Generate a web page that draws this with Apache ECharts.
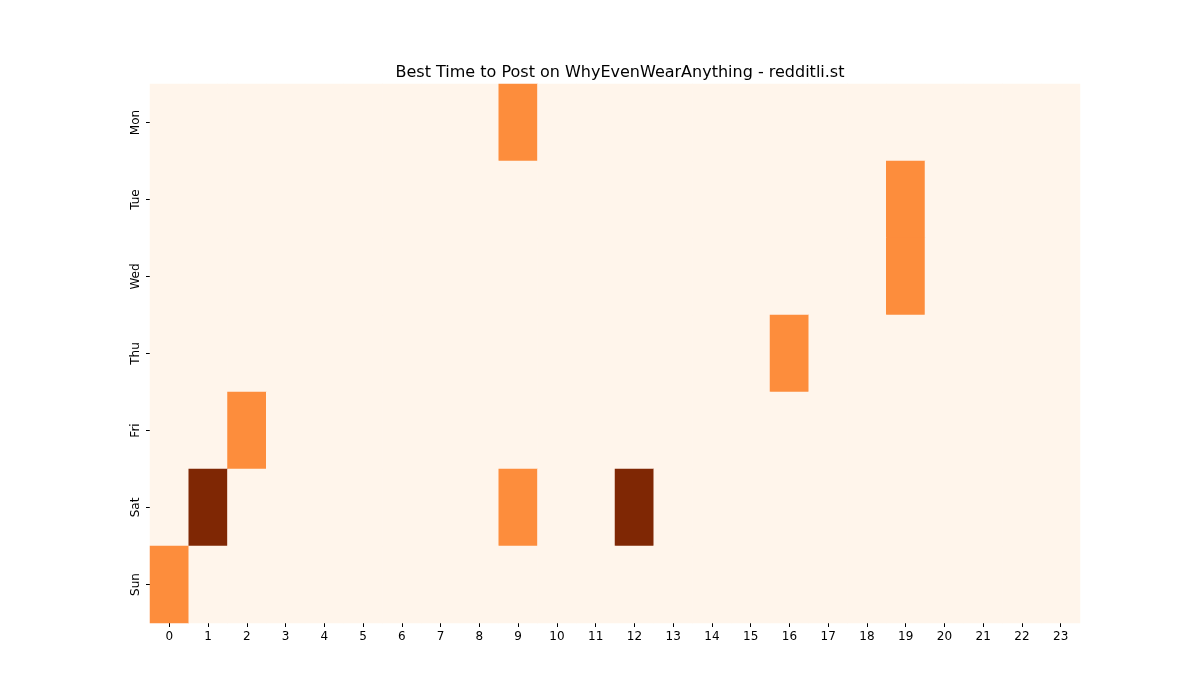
<!DOCTYPE html>
<html><head><meta charset="utf-8">
<script src="https://cdn.jsdelivr.net/npm/echarts@6/dist/echarts.min.js"></script>
<style>html,body{margin:0;padding:0;background:#fff}#c{width:1200px;height:700px}</style>
</head><body><div id="c"></div>
<script>
const hours = ['0','1','2','3','4','5','6','7','8','9','10','11','12','13','14','15','16','17','18','19','20','21','22','23'];
const days = ['Mon','Tue','Wed','Thu','Fri','Sat','Sun'];
const monVals = [0,0,0,0,0,0,0,0,0,1,0,0,0,0,0,0,0,0,0,0,0,0,0,0];
const tueVals = [0,0,0,0,0,0,0,0,0,0,0,0,0,0,0,0,0,0,0,1,0,0,0,0];
const wedVals = [0,0,0,0,0,0,0,0,0,0,0,0,0,0,0,0,0,0,0,1,0,0,0,0];
const thuVals = [0,0,0,0,0,0,0,0,0,0,0,0,0,0,0,0,1,0,0,0,0,0,0,0];
const friVals = [0,0,1,0,0,0,0,0,0,0,0,0,0,0,0,0,0,0,0,0,0,0,0,0];
const satVals = [0,2,0,0,0,0,0,0,0,1,0,0,2,0,0,0,0,0,0,0,0,0,0,0];
const sunVals = [1,0,0,0,0,0,0,0,0,0,0,0,0,0,0,0,0,0,0,0,0,0,0,0];
const rows = [monVals,tueVals,wedVals,thuVals,friVals,satVals,sunVals];
const data = [];
rows.forEach((r,d)=>r.forEach((v,h)=>data.push([h,d,v])));
const font = 'DejaVu Sans';
const chart = echarts.init(document.getElementById('c'));
chart.setOption({
  animation:false,
  textStyle:{fontFamily:font},
  title:{text:'Best Time to Post on WhyEvenWearAnything - redditli.st',left:615,textAlign:'center',top:60,
    textStyle:{fontFamily:font,fontSize:16,fontWeight:'normal',color:'#000'}},
  graphic:[{type:'text',left:'center',top:338,x:0,style:{text:'redditli.st',fill:'rgba(160,140,130,0.6)',font:'26px "DejaVu Sans"'},left:550}],
  grid:{left:150,right:120,top:84,bottom:77},
  xAxis:{type:'category',data:hours,axisLine:{show:false},axisTick:{show:true,alignWithLabel:true,length:4,lineStyle:{color:'#000'}},
    axisLabel:{color:'#000',fontSize:12,fontFamily:font,margin:8},splitArea:{show:false}},
  yAxis:{type:'category',data:days,inverse:true,axisLine:{show:false},axisTick:{show:true,alignWithLabel:true,length:4,lineStyle:{color:'#000'}},
    axisLabel:{color:'#000',fontSize:12,fontFamily:font,rotate:90,margin:8}},
  visualMap:{show:false,min:0,max:2,inRange:{color:['#fff5eb','#fd8d3c','#7f2704']}},
  series:[{type:'heatmap',data:data,itemStyle:{borderWidth:0},z:1}]
});
</script></body></html>
